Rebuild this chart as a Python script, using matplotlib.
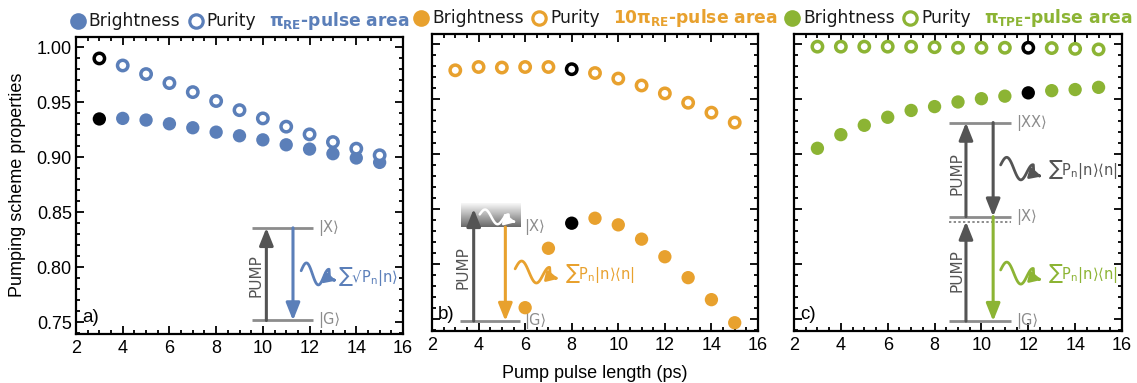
import numpy as np
import matplotlib
matplotlib.use('Agg')
import matplotlib.pyplot as plt
from matplotlib.lines import Line2D
from matplotlib.ticker import MultipleLocator, FormatStrFormatter
from matplotlib.colors import LinearSegmentedColormap
from matplotlib.offsetbox import (AnchoredOffsetbox, DrawingArea, HPacker,
                                  TextArea)

plt.rcParams['font.family'] = ['Liberation Sans', 'DejaVu Sans']
plt.rcParams['mathtext.default'] = 'regular'

# ---- data ----
pulse_len = [3, 4, 5, 6, 7, 8, 9, 10, 11, 12, 13, 14, 15]  # ps

# a) pi_RE pulse area
bright_a = [0.935, 0.9355, 0.934, 0.9306, 0.927, 0.923, 0.9197, 0.916,
            0.9115, 0.9076, 0.9034, 0.8995, 0.8955]
purity_a = [0.990, 0.9836, 0.9758, 0.9676, 0.9594, 0.9513, 0.943, 0.9355,
            0.928, 0.921, 0.914, 0.908, 0.902]
# b) 10 pi_RE pulse area (brightness below axis for 3-5 ps)
pulse_len_b = [6, 7, 8, 9, 10, 11, 12, 13, 14, 15]
bright_b = [0.7607, 0.8147, 0.8375, 0.842, 0.836, 0.823, 0.807, 0.788,
            0.768, 0.747]
purity_b = [0.9765, 0.9795, 0.979, 0.9795, 0.9795, 0.9775, 0.974, 0.969,
            0.9627, 0.9555, 0.947, 0.938, 0.929]
# c) pi_TPE pulse area
bright_c = [0.9056, 0.918, 0.9265, 0.9338, 0.940, 0.9435, 0.9477, 0.9507,
            0.953, 0.956, 0.958, 0.959, 0.961]
purity_c = [0.998, 0.998, 0.998, 0.998, 0.998, 0.9975, 0.997, 0.997,
            0.997, 0.997, 0.9967, 0.996, 0.9955]

# pulse length of the black (highlighted) point in each panel
highlight = [3, 8, 12]

titles = [r'π$_\mathbf{RE}$-pulse area', r'10π$_\mathbf{RE}$-pulse area',
          r'π$_\mathbf{TPE}$-pulse area']
panel_tags = ['a)', 'b)', 'c)']

BLUE = '#5b7fb9'
ORANGE = '#e8a12e'
GREEN = '#8cb434'
DARK = '#545454'
LEVEL = '#8c8c8c'
colors = [BLUE, ORANGE, GREEN]

W, H = 1137, 383
fig = plt.figure(figsize=(W / 100, H / 100), dpi=100)


def box(l, t, r, b):
    return [l / W, 1 - b / H, (r - l) / W, (b - t) / H]


axes = [fig.add_axes(box(76, 37, 403, 334)),
        fig.add_axes(box(432, 34, 758, 331)),
        fig.add_axes(box(794, 34, 1122, 331))]

series = [(pulse_len, bright_a, pulse_len, purity_a),
          (pulse_len_b, bright_b, pulse_len, purity_b),
          (pulse_len, bright_c, pulse_len, purity_c)]


def level(ax, x0, x1, y, ls='-', lw=2.0):
    ax.plot([x0, x1], [y, y], color=LEVEL, lw=lw, ls=ls, zorder=2,
            solid_capstyle='butt')


def arrow(ax, x, y0, y1, color):
    ax.annotate('', xy=(x, y1), xytext=(x, y0), zorder=3,
                arrowprops=dict(arrowstyle='-|>,head_width=0.3,head_length=0.75',
                                color=color, lw=2.2, shrinkA=0, shrinkB=0,
                                mutation_scale=14))


def wiggle(ax, x0, y0, x1, y1, color, lw=2.0, amp=0.0085):
    t = np.linspace(0, 1, 80)
    wav = np.where(t < 0.8, np.sin(2 * np.pi * 1.25 * t / 0.8), 0.0)
    xs = x0 + (x1 - x0) * t
    ys = y0 + (y1 - y0) * t + amp * wav
    ax.plot(xs[:-4], ys[:-4], color=color, lw=lw, zorder=3,
            solid_capstyle='round')
    ax.annotate('', xy=(xs[-1], ys[-1]), xytext=(xs[-6], ys[-6]), zorder=3,
                arrowprops=dict(arrowstyle='-|>,head_width=0.3,head_length=0.6',
                                color=color, lw=lw, shrinkA=0, shrinkB=0,
                                mutation_scale=11))


def label(ax, x, y, s, color=LEVEL, size=10.5, **kw):
    ax.text(x, y, s, color=color, fontsize=size, va='center', ha='left',
            family=['DejaVu Sans'], zorder=3, **kw)


def pump(ax, x, y):
    ax.text(x, y, 'PUMP', rotation=90, color=DARK, fontsize=11,
            ha='center', va='center', family=['DejaVu Sans'])


def marker_box(color, filled):
    da = DrawingArea(12, 12, 0, 0)
    if filled:
        m = Line2D([6], [6], ls='none', marker='o', ms=12, mfc=color,
                   mec=color, mew=0)
    else:
        m = Line2D([6], [6], ls='none', marker='o', ms=9.6, mfc='white',
                   mec=color, mew=2.3)
    da.add_artist(m)
    return da


def header(ax, color, title):
    tp = dict(family='DejaVu Sans', size=12.3, color='#1a1a1a')
    g1 = HPacker(children=[marker_box(color, True), TextArea('Brightness', textprops=tp)],
                 sep=2, align='center', pad=0)
    g2 = HPacker(children=[marker_box(color, False), TextArea('Purity', textprops=tp)],
                 sep=2, align='center', pad=0)
    g12 = HPacker(children=[g1, g2], sep=5, align='center', pad=0)
    tt = TextArea(title, textprops=dict(family='DejaVu Sans', size=12.3,
                                        color=color, weight='bold'))
    row = HPacker(children=[g12, tt], sep=9, align='center', pad=0)
    ab = AnchoredOffsetbox(loc='lower center', child=row, pad=0,
                           borderpad=0.35, frameon=False,
                           bbox_to_anchor=(0.5, 1.0),
                           bbox_transform=ax.transAxes)
    ax.add_artist(ab)


for i, ax in enumerate(axes):
    c = colors[i]
    xb, yb, xp, yp = series[i]
    hb = [k for k, v in enumerate(xb) if v == highlight[i]]
    hp = [k for k, v in enumerate(xp) if v == highlight[i]]
    mfc_b = [c] * len(xb)
    mec_p = [c] * len(xp)
    for k in hb:
        mfc_b[k] = 'black'
    for k in hp:
        mec_p[k] = 'black'
    ax.scatter(xb, yb, s=92, c=mfc_b, linewidths=0, zorder=5)
    ax.scatter(xp, yp, s=56, facecolors='white', edgecolors=mec_p,
               linewidths=2.5, zorder=5)

    ax.set_xlim(2, 16)
    ax.set_ylim(0.7395, 1.0095)
    ax.xaxis.set_major_locator(MultipleLocator(2))
    ax.xaxis.set_minor_locator(MultipleLocator(0.5))
    ax.yaxis.set_major_locator(MultipleLocator(0.05))
    ax.yaxis.set_minor_locator(MultipleLocator(0.01))
    ax.yaxis.set_major_formatter(FormatStrFormatter('%.2f'))
    ax.tick_params(which='both', direction='in', top=True, right=True,
                   width=1.3, labelsize=13)
    ax.tick_params(which='major', length=5.5, pad=4)
    ax.tick_params(which='minor', length=3)
    ax.tick_params(axis='y', pad=3)
    for sp in ax.spines.values():
        sp.set_linewidth(1.6)
    if i > 0:
        ax.tick_params(axis='y', labelleft=False)

    ax.text(2.25, 0.7545, panel_tags[i], fontsize=13.5, va='center',
            ha='left', zorder=6)
    header(ax, c, titles[i])

# ---- inset level schemes ----
ax = axes[0]
level(ax, 9.52, 12.13, 0.836)
level(ax, 9.52, 12.13, 0.7518)
arrow(ax, 10.15, 0.7518, 0.836, DARK)
arrow(ax, 11.29, 0.836, 0.7518, BLUE)
pump(ax, 9.72, 0.793)
wiggle(ax, 11.64, 0.797, 13.14, 0.788, BLUE)
label(ax, 12.35, 0.836, '|X⟩')
label(ax, 12.35, 0.7518, '|G⟩')
label(ax, 13.22, 0.7915, '∑√P$_n$|n⟩', color=BLUE, size=10.5)

ax = axes[1]
grad = np.linspace(0, 1, 64).reshape(-1, 1)
cmap = LinearSegmentedColormap.from_list('g', ['#f8f8f8', '#6a6a6a'])
ax.imshow(grad, extent=[3.26, 5.83, 0.834, 0.8556], cmap=cmap,
          aspect='auto', origin='upper', zorder=1)
level(ax, 3.21, 5.79, 0.7486)
arrow(ax, 3.79, 0.7486, 0.8505, DARK)
arrow(ax, 5.15, 0.834, 0.7486, ORANGE)
pump(ax, 3.35, 0.797)
wiggle(ax, 4.05, 0.8455, 5.6, 0.8385, 'white', lw=1.8, amp=0.0055)
wiggle(ax, 5.57, 0.796, 7.43, 0.787, ORANGE)
label(ax, 5.95, 0.834, '|X⟩')
label(ax, 5.95, 0.7486, '|G⟩')
label(ax, 7.72, 0.7914, '∑P$_n$|n⟩⟨n|', color=ORANGE, size=10.5)

ax = axes[2]
level(ax, 8.63, 11.25, 0.929)
level(ax, 8.63, 11.25, 0.8435)
level(ax, 8.63, 11.25, 0.839, ls=(0, (1.2, 1.2)), lw=1.4)
level(ax, 8.63, 11.25, 0.7485)
arrow(ax, 9.34, 0.7485, 0.839, DARK)
arrow(ax, 9.34, 0.8435, 0.929, DARK)
arrow(ax, 10.5, 0.929, 0.8435, DARK)
arrow(ax, 10.5, 0.8435, 0.7485, GREEN)
pump(ax, 8.94, 0.883)
pump(ax, 8.94, 0.7944)
wiggle(ax, 10.82, 0.8905, 12.57, 0.880, DARK)
wiggle(ax, 10.82, 0.795, 12.57, 0.786, GREEN)
label(ax, 11.5, 0.929, '|XX⟩')
label(ax, 11.5, 0.8435, '|X⟩')
label(ax, 11.5, 0.7485, '|G⟩')
label(ax, 12.85, 0.886, '∑P$_n$|n⟩⟨n|', color=DARK, size=10.5)
label(ax, 12.85, 0.792, '∑P$_n$|n⟩⟨n|', color=GREEN, size=10.5)

fig.text(18 / W, 1 - 185 / H, 'Pumping scheme properties', rotation=90,
         fontsize=13, ha='center', va='center')
fig.text(595 / W, 1 - 373 / H, 'Pump pulse length (ps)', fontsize=13,
         ha='center', va='center')

fig.savefig('out.png', dpi=100)
